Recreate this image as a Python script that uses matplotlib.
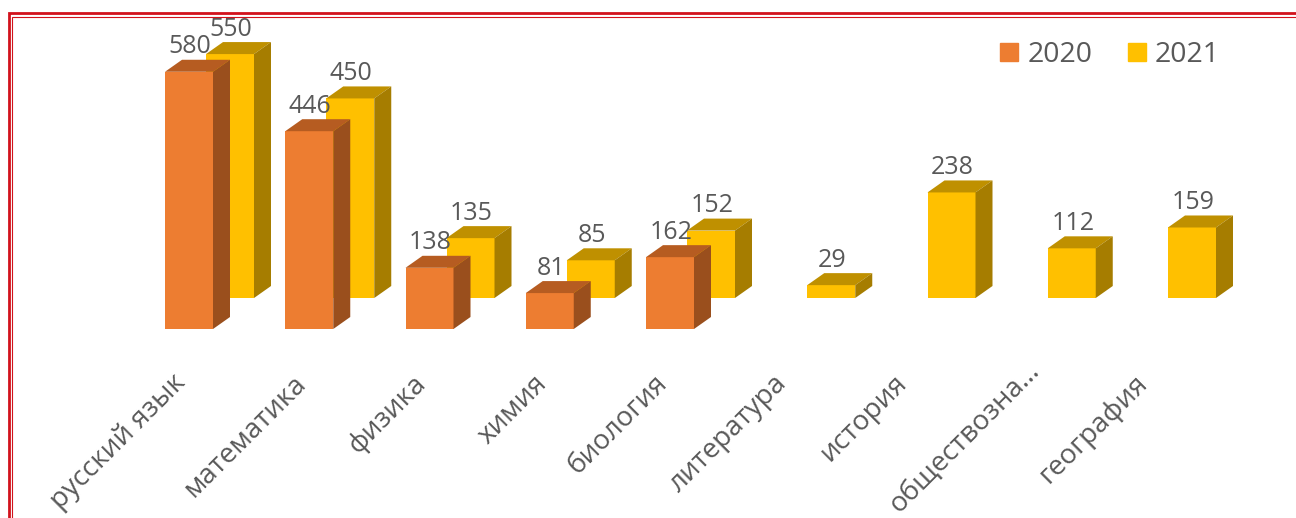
import matplotlib
matplotlib.use('Agg')
import matplotlib.pyplot as plt
from matplotlib.patches import Polygon, Rectangle
from matplotlib.lines import Line2D
from matplotlib.transforms import ScaledTranslation

subjects = ['русский язык', 'математика', 'физика', 'химия', 'биология',
            'литература', 'история', 'обществозна…', 'география']
values_2020 = [580, 446, 138, 81, 162, None, None, None, None]
values_2021 = [550, 450, 135, 85, 152, 29, 238, 112, 159]

plt.rcParams['font.family'] = ['Open Sans', 'DejaVu Sans']

W, H = 1296, 518
PX_PER_CAT = 120.25
PX_PER_VAL = 0.4435
BASE_Y = 329  # pixel row of the 2020 baseline
FIRST_X = 189  # pixel column of the first category centre

GREY = '#595959'
RED = '#D2121C'


def draw_box(ax, x, val, off_x, off_y, front, top, side):
    # 3d look: front bar + top and side faces, offsets are in data units
    w = 48 / PX_PER_CAT
    dx = 17 / PX_PER_CAT
    dy = 12 / PX_PER_VAL
    ax.bar(x + off_x, val, width=w, bottom=off_y, color=front, linewidth=0, zorder=2)
    l, r = x + off_x - w / 2, x + off_x + w / 2
    t, b = off_y + val, off_y
    ax.add_patch(Polygon([(l, t), (r, t), (r + dx, t + dy), (l + dx, t + dy)], color=top, lw=0, zorder=2))
    ax.add_patch(Polygon([(r, b), (r, t), (r + dx, t + dy), (r + dx, b + dy)], color=side, lw=0, zorder=2))
    ax.text(x + off_x + 1 / PX_PER_CAT, t + dy + 16 / PX_PER_VAL, str(val), ha='center', va='center_baseline',
            fontsize=18, color=GREY, zorder=5)


fig = plt.figure(figsize=(W / 100, H / 100), dpi=100)
ax = fig.add_axes([0, 1 - BASE_Y / H, 1, BASE_Y / H])
ax.set_xlim(-FIRST_X / PX_PER_CAT, (W - FIRST_X) / PX_PER_CAT)
ax.set_ylim(0, BASE_Y / PX_PER_VAL)

yellow_dx = 41 / PX_PER_CAT
yellow_dy = 31 / PX_PER_VAL
for i, v in enumerate(values_2021):
    draw_box(ax, i, v, yellow_dx, yellow_dy, '#FFC000', '#BF9000', '#A67D00')
for i, v in enumerate(values_2020):
    if v is not None:
        draw_box(ax, i, v, 0, 0, '#ED7D31', '#B65C21', '#9A4F1D')

ax.set_xticks(range(len(subjects)))
ax.set_xticklabels(subjects, rotation=45, ha='right', va='top', rotation_mode='anchor',
                   fontsize=20, color=GREY)
ax.tick_params(axis='x', length=0, pad=29)
for i, lab in enumerate(ax.get_xticklabels()):
    # the long truncated label sits a little further up and right
    sx, sy = (-5, 12) if subjects[i].endswith('…') else (-17, 0)
    lab.set_transform(lab.get_transform() + ScaledTranslation(sx / 100, sy / 100, fig.dpi_scale_trans))
ax.set_yticks([])
for s in ax.spines.values():
    s.set_visible(False)
ax.patch.set_alpha(0)

# legend
handles = [Rectangle((0, 0), 1, 1, color='#ED7D31'), Rectangle((0, 0), 1, 1, color='#FFC000')]
fig.legend(handles, ['2020', '2021'], ncol=2, frameon=False, loc='center left',
           bbox_to_anchor=(974.5 / W, 1 - 55 / H), fontsize=20.5, labelcolor=GREY,
           handlelength=0.63, handleheight=0.63, handletextpad=0.32, columnspacing=1.26)

# double red frame, open on the right and at the bottom
fig.add_artist(Line2D([8.5 / W, 8.5 / W, 1], [0, 1 - 13.3 / H, 1 - 13.3 / H], color=RED, lw=2.0,
                      transform=fig.transFigure, solid_joinstyle='miter'))
fig.add_artist(Line2D([11.5 / W, 11.5 / W, 1], [0, 1 - 16.5 / H, 1 - 16.5 / H], color=RED, lw=0.8,
                      transform=fig.transFigure, solid_joinstyle='miter'))

fig.savefig('out.png', dpi=100)
